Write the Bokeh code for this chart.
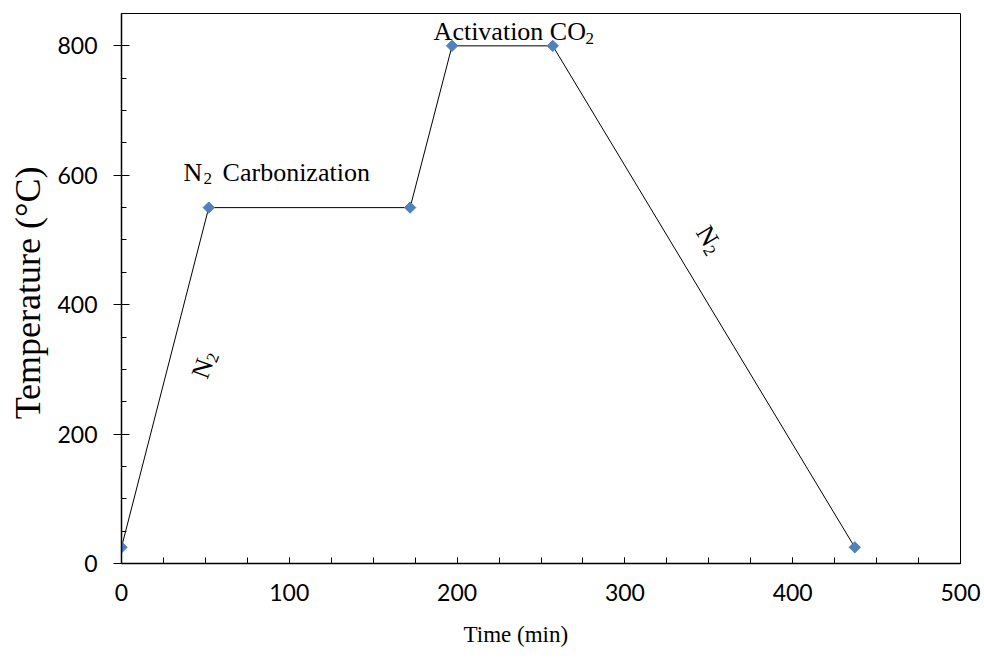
import math

from bokeh.core.properties import value
from bokeh.embed import file_html
from bokeh.models import FixedTicker, Range1d, Title
from bokeh.plotting import figure
from bokeh.resources import INLINE

# Heating programme: time (min) vs furnace temperature (°C)
time_min = [0, 52, 172, 197, 257, 437]
temperature_c = [25, 550, 550, 800, 800, 25]

x_major = [0, 100, 200, 300, 400, 500]
x_minor = list(range(0, 501, 25))
y_major = [0, 200, 400, 600, 800]
y_minor = list(range(0, 801, 50))

SERIF = "Liberation Serif"
SANS = "Lato"

p = figure(
    width=984, height=663,
    output_backend="svg", toolbar_location=None,
    x_range=Range1d(0, 500), y_range=Range1d(0, 850),
    min_border_left=121, min_border_right=24,
    min_border_top=13, min_border_bottom=100,
)
p.xgrid.visible = False
p.ygrid.visible = False
p.background_fill_color = "white"
p.border_fill_color = "white"
p.outline_line_color = "black"
p.outline_line_width = 1

# profile line and the set points
p.line(time_min, temperature_c, line_color="black", line_width=1)
p.scatter(time_min, temperature_c, marker="square", size=8, angle=math.pi / 4,
          fill_color="#4F81BD", line_color="#4F81BD")

# axes
p.xaxis.ticker = FixedTicker(ticks=x_major, minor_ticks=x_minor)
p.yaxis.ticker = FixedTicker(ticks=y_major, minor_ticks=y_minor)
for ax in (p.xaxis[0], p.yaxis[0]):
    ax.axis_line_color = "black"
    ax.axis_line_width = 1.5
    ax.major_tick_line_color = "black"
    ax.minor_tick_line_color = "black"
    ax.major_label_text_font = SANS
    ax.major_label_text_font_size = "23px"
    ax.major_label_text_color = "black"
    ax.axis_label_text_font = SERIF
    ax.axis_label_text_font_style = "normal"
    ax.axis_label_text_color = "black"

p.xaxis.major_tick_in = 6
p.xaxis.major_tick_out = 0
p.xaxis.minor_tick_in = 6
p.xaxis.minor_tick_out = 0
p.xaxis.major_label_standoff = 20

p.yaxis.major_tick_in = 8
p.yaxis.major_tick_out = 8
p.yaxis.minor_tick_in = 5
p.yaxis.minor_tick_out = 0
p.yaxis.major_label_standoff = 16
p.yaxis.axis_label = "Temperature  (°C)"
p.yaxis.axis_label_text_font_size = "36px"
p.yaxis.axis_label_standoff = 6

# x-axis title, sitting a little left of the frame centre
p.add_layout(Title(text="Time (min)", align="left", offset=342, standoff=32,
                   text_font=SERIF, text_font_size="23px",
                   text_font_style="normal", text_color="black"), "below")

BASE_SHIFT = -9  # lift so the baseline lands where intended


def rich_text(x, y, parts, angle_deg=0.0):
    """Draw text pieces (text, along, across, size) laid out along a rotated baseline."""
    th = math.radians(angle_deg)
    c, s = math.cos(th), math.sin(th)
    for txt, u, v, size in parts:
        v = v + BASE_SHIFT
        p.text(x=[x], y=[y], text=[txt], angle=th,
               x_offset=u * c + v * s, y_offset=-u * s + v * c,
               text_font=value(SERIF), text_font_size=f"{size}px",
               text_align="left", text_baseline="alphabetic",
               text_color="black")


rich_text(37, 591, [("N", 0, 0, 26), ("2", 20, 6, 17), ("Carbonization", 39, 0, 26)])
rich_text(186, 809, [("Activation CO", 0, 0, 26), ("2", 152, 7, 17)])
rich_text(51.4, 283, [("N", 0, 0, 26), ("2", 19, 6, 17)], angle_deg=70)
rich_text(341.7, 511.6, [("N", 0, 0, 26), ("2", 19, 6, 17)], angle_deg=-59)

open("out.html", "w").write(file_html(p, INLINE))
